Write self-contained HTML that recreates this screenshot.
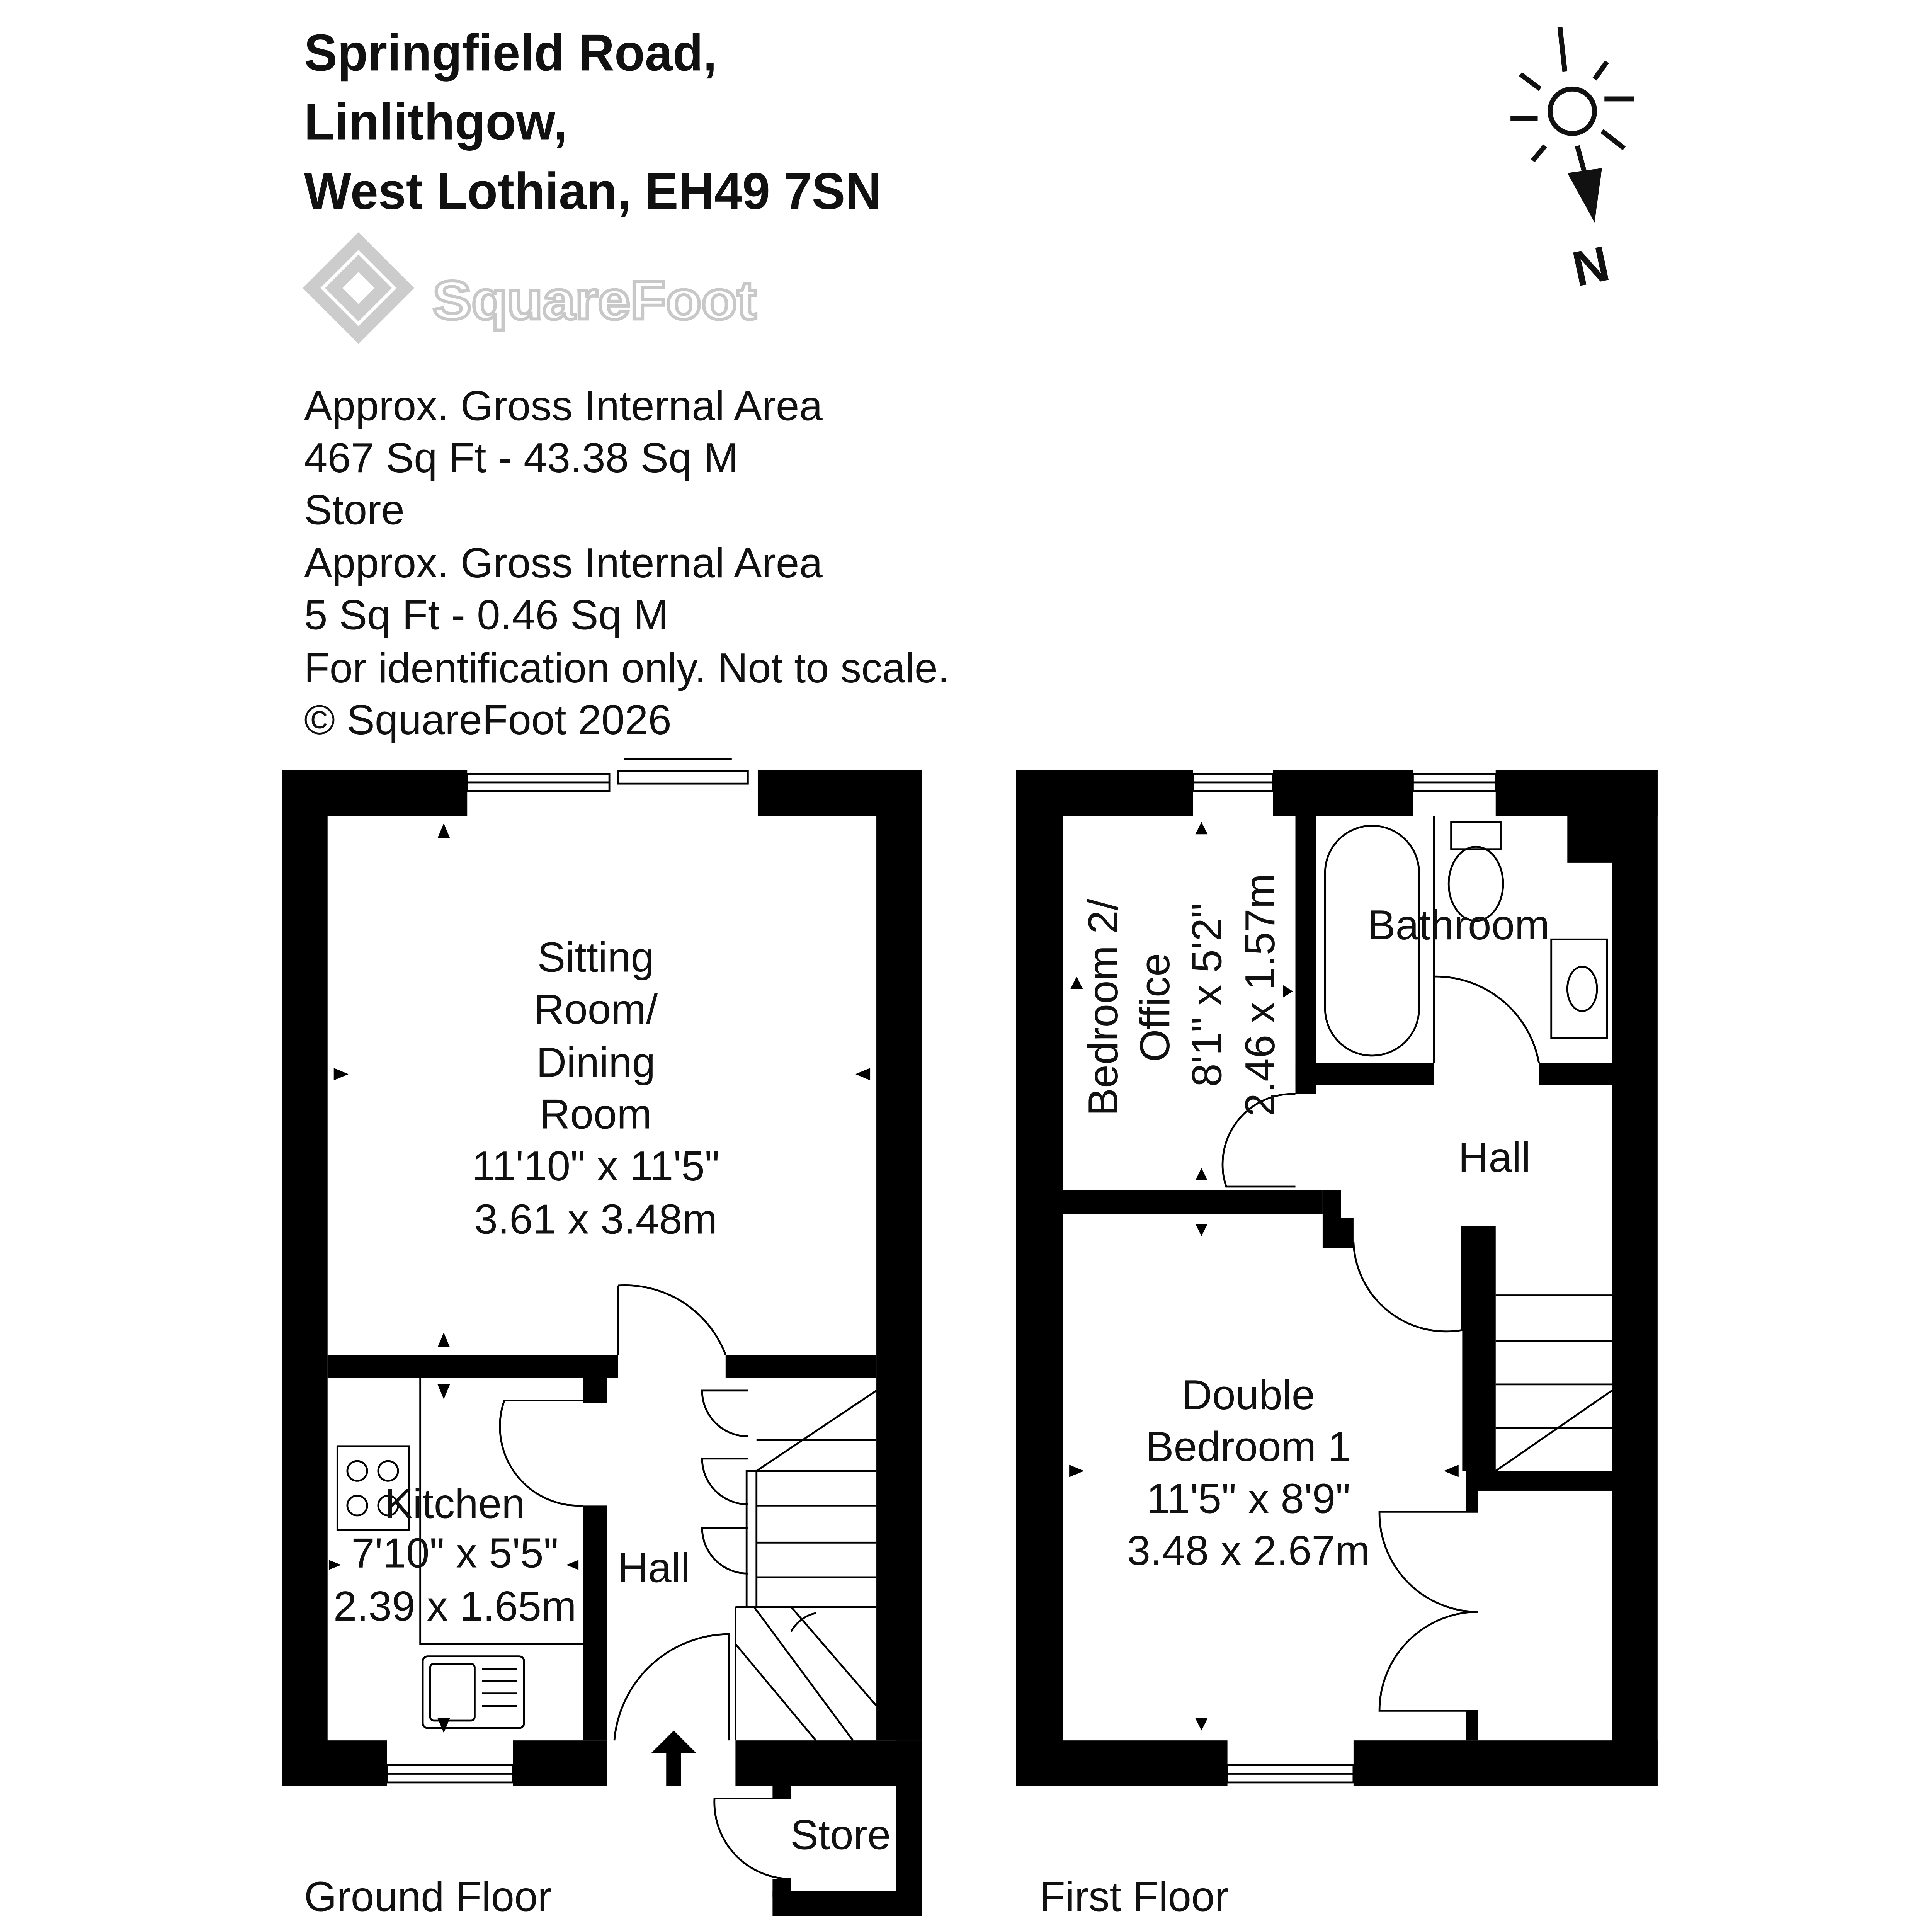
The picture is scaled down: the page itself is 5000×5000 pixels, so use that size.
<!DOCTYPE html>
<html><head><style>html,body{margin:0;padding:0;background:#fff}svg{display:block}</style></head>
<body>
<svg width="5000" height="5000" viewBox="0 0 1563 1563" xmlns="http://www.w3.org/2000/svg" font-family="Liberation Sans, sans-serif">
<rect width="1563" height="1563" fill="#fff"/>
<g font-weight="bold" font-size="42" fill="#111">
<text x="246" y="57" textLength="334" lengthAdjust="spacingAndGlyphs">Springfield Road,</text>
<text x="246" y="113" textLength="213" lengthAdjust="spacingAndGlyphs">Linlithgow,</text>
<text x="246" y="169" textLength="467" lengthAdjust="spacingAndGlyphs">West Lothian, EH49 7SN</text>
</g>
<g fill="none" stroke="#ccc" stroke-width="10">
<path d="M290 195 L328 233 L290 271 L252 233 Z"/>
<path d="M270 233 L290 213 L310 233 L290 253 Z"/>
</g>
<text x="350" y="258" font-size="44" font-weight="bold" fill="#fff" stroke="#c8c8c8" stroke-width="2.5" textLength="262" lengthAdjust="spacingAndGlyphs">SquareFoot</text>
<g font-size="34" fill="#111">
<text x="246" y="340">Approx. Gross Internal Area</text>
<text x="246" y="382">467 Sq Ft  -  43.38 Sq M</text>
<text x="246" y="424">Store</text>
<text x="246" y="467">Approx. Gross Internal Area</text>
<text x="246" y="509">5 Sq Ft  -  0.46 Sq M</text>
<text x="246" y="552" textLength="522" lengthAdjust="spacingAndGlyphs">For identification only. Not to scale.</text>
<text x="246" y="594">© SquareFoot 2026</text>
<text x="246" y="1546">Ground Floor</text>
<text x="841" y="1546">First Floor</text>
</g>
<!-- compass -->
<g stroke="#111" stroke-width="4" fill="none">
<circle cx="1272" cy="90" r="18"/>
<line x1="1262" y1="22" x2="1266" y2="58"/>
<line x1="1222" y1="96" x2="1244" y2="96"/>
<line x1="1298" y1="80" x2="1322" y2="80"/>
<line x1="1230" y1="60" x2="1246" y2="72"/>
<line x1="1300" y1="50" x2="1290" y2="64"/>
<line x1="1240" y1="130" x2="1250" y2="118"/>
<line x1="1296" y1="106" x2="1314" y2="120"/>
<line x1="1276" y1="118" x2="1282" y2="140"/>
</g>
<path d="M1268 140 L1296 136 L1290 180 Z" fill="#111"/>
<text x="1272" y="228" font-size="40" font-weight="bold" fill="#111" transform="rotate(-12 1292 212)">N</text>
<!-- ground floor walls -->
<g fill="#000">
<rect x="228" y="623" width="37" height="822"/>
<rect x="228" y="623" width="150" height="37"/>
<rect x="613" y="623" width="133" height="37"/>
<rect x="709" y="623" width="37" height="785"/>
<rect x="228" y="1408" width="85" height="37"/>
<rect x="415" y="1408" width="76" height="37"/>
<rect x="595" y="1408" width="151" height="37"/>
<rect x="725" y="1408" width="21" height="142"/>
<rect x="625" y="1530" width="121" height="20"/>
<rect x="625" y="1445" width="15" height="10"/>
<rect x="625" y="1520" width="15" height="15"/>
<rect x="265" y="1096" width="235" height="19"/>
<rect x="587" y="1096" width="122" height="19"/>
<rect x="472" y="1115" width="19" height="20"/>
<rect x="472" y="1218" width="19" height="190"/>
<path d="M527 1418 L545 1400 L563 1418 L551 1418 L551 1445 L539 1445 L539 1418 Z"/>
</g>
<g stroke="#000" stroke-width="1.5" fill="none">
<rect x="378" y="626" width="115" height="14"/>
<line x1="378" y1="633" x2="493" y2="633"/>
<rect x="500" y="624" width="105" height="10"/>
<line x1="505" y1="614" x2="592" y2="614"/>
<rect x="313" y="1428" width="102" height="14"/>
<line x1="313" y1="1435" x2="415" y2="1435"/>
<path d="M500 1040 A87 87 0 0 1 587 1096 M500 1040 V1096"/>
<path d="M472 1133 H408 A64 64 0 0 0 472 1218"/>
<path d="M605 1125 H568 A37 37 0 0 0 605 1162"/>
<path d="M605 1180 H568 A37 37 0 0 0 605 1217 M605 1236 H568 A37 37 0 0 0 605 1273"/>
<path d="M497 1408 A94 94 0 0 1 590 1322 V1408"/>
<path d="M640 1455 H578 A62 62 0 0 0 640 1520"/>
<rect x="604" y="1190" width="8" height="110"/>
<path d="M612 1190 L709 1125 M612 1165 L709 1165 M612 1190 H709 M612 1218 H709 M612 1248 H709 M612 1276 H709 M595 1300 H709 M595 1300 V1408 M595 1330 L660 1408 M610 1300 L690 1408 M640 1300 L709 1380"/>
<path d="M640 1320 A30 30 0 0 1 660 1305"/>
<rect x="273" y="1170" width="58" height="68"/>
<circle cx="289" cy="1190" r="8"/><circle cx="314" cy="1190" r="8"/><circle cx="289" cy="1218" r="8"/><circle cx="314" cy="1218" r="8"/>
<path d="M340 1115 V1330 H472"/>
<rect x="342" y="1340" width="82" height="58" rx="4"/>
<rect x="348" y="1346" width="36" height="46" rx="3"/>
<path d="M390 1350 H418 M390 1360 H418 M390 1370 H418 M390 1380 H418"/>
</g>
<!-- first floor walls -->
<g fill="#000">
<rect x="822" y="623" width="38" height="822"/>
<rect x="822" y="623" width="143" height="37"/>
<rect x="1030" y="623" width="113" height="37"/>
<rect x="1210" y="623" width="131" height="37"/>
<rect x="1268" y="660" width="36" height="38"/>
<rect x="1304" y="623" width="37" height="822"/>
<rect x="822" y="1408" width="171" height="37"/>
<rect x="1095" y="1408" width="246" height="37"/>
<rect x="1048" y="660" width="17" height="225"/>
<rect x="1048" y="860" width="112" height="18"/>
<rect x="1245" y="860" width="59" height="18"/>
<rect x="860" y="963" width="210" height="19"/>
<rect x="1070" y="963" width="15" height="22"/>
<rect x="1070" y="985" width="25" height="25"/>
<rect x="1183" y="992" width="27" height="198"/>
<rect x="1186" y="1190" width="10" height="33"/>
<rect x="1186" y="1190" width="118" height="16"/>
<rect x="1186" y="1384" width="10" height="24"/>
</g>
<g stroke="#000" stroke-width="1.5" fill="none">
<rect x="965" y="626" width="65" height="14"/><line x1="965" y1="633" x2="1030" y2="633"/>
<rect x="1143" y="626" width="67" height="14"/><line x1="1143" y1="633" x2="1210" y2="633"/>
<rect x="993" y="1428" width="102" height="14"/><line x1="993" y1="1435" x2="1095" y2="1435"/>
<rect x="1072" y="668" width="76" height="186" rx="38"/>
<path d="M1160 660 V860 M1160 790 A85 85 0 0 1 1245 860"/>
<path d="M1048 885 A57 57 0 0 0 992 960 H1048"/>
<path d="M1095 1005 A75 75 0 0 0 1183 1076 V992"/>
<rect x="1174" y="665" width="40" height="22"/>
<ellipse cx="1194" cy="715" rx="22" ry="30"/>
<rect x="1255" y="760" width="45" height="80"/>
<ellipse cx="1280" cy="800" rx="12" ry="18"/>
<path d="M1210 1048 H1304 M1210 1085 H1304 M1210 1120 H1304 M1210 1155 H1304 M1210 1190 L1304 1125"/>
<path d="M1196 1223 H1116 A80 80 0 0 0 1196 1304 M1196 1384 H1116 A80 80 0 0 1 1196 1304"/>
</g>
<g font-size="34" fill="#111" text-anchor="middle">
<text x="482" y="786">Sitting</text>
<text x="482" y="828">Room/</text>
<text x="482" y="871">Dining</text>
<text x="482" y="913">Room</text>
<text x="482" y="955">11'10" x 11'5"</text>
<text x="482" y="998">3.61 x 3.48m</text>
<text x="368" y="1228">Kitchen</text>
<text x="368" y="1268">7'10" x 5'5"</text>
<text x="368" y="1311">2.39 x 1.65m</text>
<text x="529" y="1280">Hall</text>
<text x="680" y="1496">Store</text>
<text x="1180" y="760">Bathroom</text>
<text x="1209" y="948">Hall</text>
<text x="1010" y="1140">Double</text>
<text x="1010" y="1182">Bedroom 1</text>
<text x="1010" y="1224">11'5" x 8'9"</text>
<text x="1010" y="1266">3.48 x 2.67m</text>
<g transform="rotate(-90)">
<text x="-815" y="904">Bedroom 2/</text>
<text x="-815" y="946">Office</text>
<text x="-805" y="988">8'1" x 5'2"</text>
<text x="-805" y="1031">2.46 x 1.57m</text>
</g>
</g>
<g fill="#000">
<path d="M354 678 L364 678 L359 666 Z"/><path d="M354 1090 L364 1090 L359 1078 Z"/>
<path d="M354 1120 L364 1120 L359 1132 Z"/><path d="M354 1390 L364 1390 L359 1402 Z"/>
<path d="M270 864 L270 874 L282 869 Z"/><path d="M704 864 L704 874 L692 869 Z"/>
<path d="M266 1262 L266 1270 L276 1266 Z"/><path d="M468 1262 L468 1270 L458 1266 Z"/>
<path d="M967 675 L977 675 L972 665 Z"/><path d="M967 955 L977 955 L972 945 Z"/>
<path d="M967 990 L977 990 L972 1000 Z"/><path d="M967 1390 L977 1390 L972 1400 Z"/>
<path d="M865 1185 L865 1195 L877 1190 Z"/><path d="M1180 1185 L1180 1195 L1168 1190 Z"/>
<path d="M866 800 L876 800 L871 790 Z"/><path d="M1038 797 L1038 807 L1046 802 Z"/>
</g>
</svg>
</body></html>
